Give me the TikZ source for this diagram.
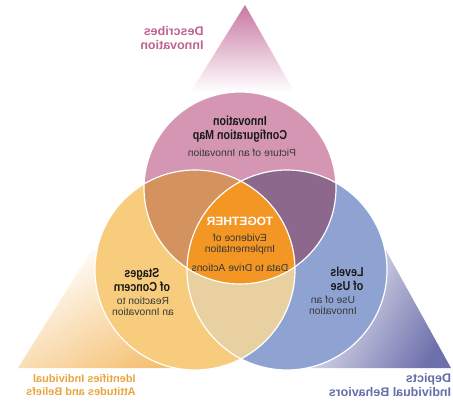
\documentclass[tikz,border=0pt]{standalone}
\usepackage{fontspec}
\usepackage{graphicx}
\setmainfont{Liberation Sans}
\newfontfamily\headfont[FakeStretch=0.82]{Liberation Sans}
\usetikzlibrary{positioning}

\definecolor{pinkC}{RGB}{212,150,178}
\definecolor{yellowC}{RGB}{247,205,125}
\definecolor{blueC}{RGB}{143,163,210}
\definecolor{pinkyellowC}{RGB}{212,146,95}
\definecolor{pinkblueC}{RGB}{140,104,140}
\definecolor{yellowblueC}{RGB}{232,208,160}
\definecolor{togetherC}{RGB}{243,150,35}
\definecolor{pinkT}{RGB}{200,120,162}
\definecolor{yellowT}{RGB}{245,192,115}
\definecolor{blueT}{RGB}{110,112,172}
\definecolor{inkC}{RGB}{25,25,25}
\definecolor{greyC}{RGB}{55,55,55}
\definecolor{pinkL}{RGB}{190,100,145}
\definecolor{orangeL}{RGB}{232,165,62}
\definecolor{blueL}{RGB}{100,110,168}

% mirrored multi-line text
\newcommand{\flip}[2][c]{\reflectbox{\begin{tabular}{@{}#1@{}}#2\end{tabular}}}

\tikzset{
  headtext/.style={font=\headfont\bfseries\fontsize{13}{13.5}\selectfont, text=inkC, inner sep=0pt},
  subtext/.style={font=\fontsize{10.3}{10.5}\selectfont, text=greyC, inner sep=0pt},
  cornertext/.style={font=\bfseries\fontsize{12.5}{13.5}\selectfont, inner sep=0pt},
  ring/.style={draw=white, line width=1.2pt},
}

\begin{document}
\begin{tikzpicture}[x=1pt, y=-1pt]
    \useasboundingbox (0,0) rectangle (453,407);
    % Corner triangles
    \shade[top color=pinkT, bottom color=white] (245,5) -- (190.6,92) -- (294.4,92) -- cycle;
    \begin{scope}
        \clip (18,368) -- (123,200) -- (200,200) -- (200,368) -- cycle;
        \shade[top color=white, bottom color=yellowT, shading angle=30] (18,250) rectangle (200,370);
    \end{scope}
    \begin{scope}
        \clip (451,368) -- (358,200) -- (290,200) -- (290,368) -- cycle;
        \shade[top color=white, bottom color=blueT, shading angle=60] (290,250) rectangle (455,370);
    \end{scope}

    % Circles
    \coordinate (pinkc) at (240,188);
    \coordinate (yellowc) at (195,270);
    \coordinate (bluec) at (287,270);
    \fill[pinkC] (pinkc) circle (96);
    \fill[yellowC] (yellowc) circle (100);
    \fill[blueC] (bluec) circle (100);
    % Overlaps
    \begin{scope}
        \clip (pinkc) circle (96);
        \fill[pinkyellowC] (yellowc) circle (100);
        \fill[pinkblueC] (bluec) circle (100);
    \end{scope}
    \begin{scope}
        \clip (yellowc) circle (100);
        \fill[yellowblueC] (bluec) circle (100);
        \clip (bluec) circle (100);
        \fill[togetherC] (pinkc) circle (96);
    \end{scope}
    \draw[ring] (pinkc) circle (96);
    \draw[ring] (yellowc) circle (100);
    \draw[ring] (bluec) circle (100);

    % Labels
    \node[cornertext, text=pinkL] (describes) at (172,40) {\flip[l]{Describes\\Innovation}};
    \node[headtext] (icmap) at (240,130) {\flip{Innovation\\Configuration Map}};
    \node[subtext] (picture) at (242,154) {\flip{Picture of an Innovation}};
    \node[font=\bfseries\fontsize{12}{13}\selectfont, text=white, inner sep=0pt] (together) at (240,223) {\flip{TOGETHER}};
    \node[subtext] (evidence) at (240,245) {\flip{Evidence of\\Implementation}};
    \node[subtext] (data) at (240,269) {\flip{Data to Drive Actions}};
    \node[headtext] (stages) at (142,282) {\flip{Stages\\of Concern}};
    \node[subtext] (reaction) at (143,308) {\flip{Reaction to\\an Innovation}};
    \node[headtext] (levels) at (347,281) {\flip{Levels\\of Use}};
    \node[subtext] (useof) at (333,307) {\flip{Use of an\\Innovation}};
    \node[cornertext, font=\bfseries\fontsize{11}{13}\selectfont, text=orangeL] (identifies) at (81,386) {\flip[l]{Identifies Individual\\Attitudes and Beliefs}};
    \node[cornertext, text=blueL] (depicts) at (390,387) {\flip[l]{Depicts\\Individual Behaviors}};
\end{tikzpicture}
\end{document}
